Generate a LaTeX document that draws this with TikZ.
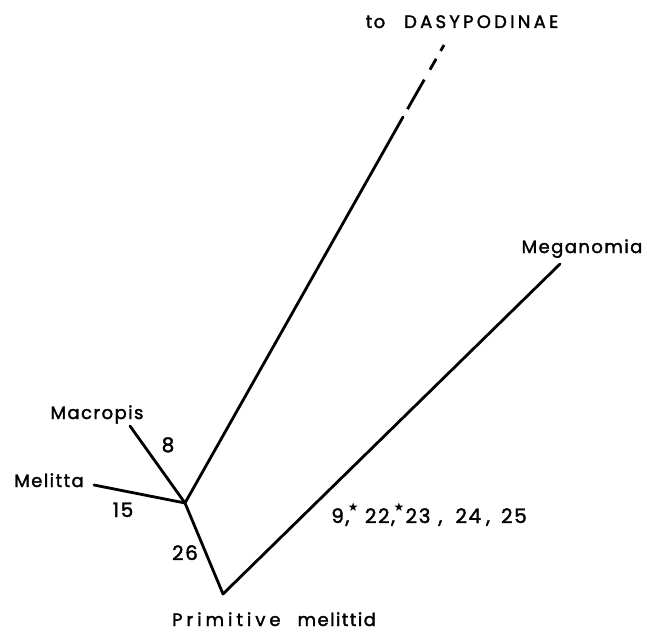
\documentclass[tikz,border=0pt]{standalone}
\usepackage{fontspec}
\setmainfont{Poppins}[LetterSpace=8, FakeBold=1.8]
\newfontfamily\starfont{DejaVu Sans}
\usetikzlibrary{positioning}
\tikzset{
  branch/.style={line width=2.8pt, line cap=round, line join=round},
  taxon/.style={font=\fontsize{18}{21}\selectfont, inner sep=0pt, anchor=base},
  charnum/.style={font=\fontsize{20}{22}\selectfont, inner sep=0pt, anchor=base}
}
\newcommand{\apostar}{\kern-1.5pt\rlap{\raisebox{12pt}{\starfont\fontsize{12}{12}\selectfont ★}}}
\begin{document}
\begin{tikzpicture}[x=1pt,y=-1pt]
  \useasboundingbox (0,0) rectangle (647,631);
  % tree vertices
  \coordinate (root) at (223,594);
  \coordinate (junc) at (185,503);
  \coordinate (macropistip) at (130,426);
  \coordinate (melittatip) at (94,485);
  \coordinate (meganomiatip) at (560,264);
  \coordinate (dasybreak) at (403,117);
  \coordinate (dasytip) at (444,45);

  \node[taxon] (dasy) at (462,28)
    {to\hspace{19pt}\addfontfeature{LetterSpace=18}DASYPODINAE};
  \node[taxon] (meganomia) at (582,253) {Meganomia};
  \node[taxon] (macropis) at (97,419) {Macropis};
  \node[taxon] (melitta) at (49,487) {Melitta};
  \node[taxon] (primitive) at (274,626)
    {{\addfontfeature{LetterSpace=22}Primitive}\hspace{17pt}melittid};

  \node[charnum] (c8) at (168,452) {8};
  \node[charnum] (c15) at (123,517) {15};
  \node[charnum] (c26) at (185,560) {26};
  \node[charnum] (cmega) at (429,523)
    {9,\apostar\hspace{17pt}22,\apostar\hspace{12pt}23\hspace{8pt},\hspace{13pt}24\hspace{5pt},\hspace{11pt}25};

  \draw[branch] (macropistip) -- (junc) -- (root) -- (meganomiatip);
  \draw[branch] (melittatip) -- (junc) -- (dasybreak);
  \draw[branch, line cap=butt, dash pattern=on 0pt off 9pt on 34pt off 11.5pt on 12.5pt off 9pt on 6pt]
    (dasybreak) -- (dasytip);
\end{tikzpicture}
\end{document}
